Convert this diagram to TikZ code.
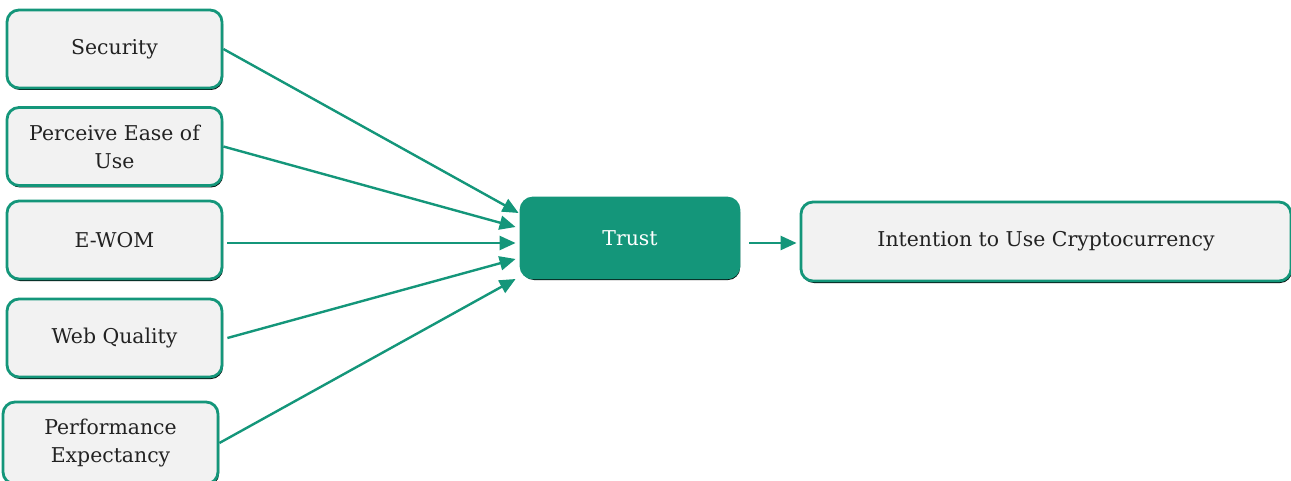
\documentclass[tikz,border=0pt]{standalone}
\usepackage{fontspec}
\setmainfont{DejaVu Serif}
\usepackage{tikz}
\usetikzlibrary{arrows.meta,shadows,calc,positioning}
\definecolor{trustgreen}{HTML}{14967A}
\definecolor{boxgray}{HTML}{F2F2F2}
\definecolor{labelgray}{HTML}{222222}

\begin{document}
\begin{tikzpicture} [x=0.5pt, y=-0.5pt,
  factor/.style={draw=trustgreen, line width=1.4pt, fill=boxgray, rounded corners=6pt,
    minimum width=107.5pt, minimum height=39pt, align=center, inner sep=1pt,
    text=labelgray, font=\fontsize{10.2}{14}\selectfont,
    drop shadow={shadow xshift=0.5pt, shadow yshift=-1pt, fill=black, opacity=1}},
  link/.style={draw=trustgreen, line width=1.2pt, -{Triangle[length=8pt,width=7pt]}}]
\useasboundingbox (0,0) rectangle (1291,481);
\clip (0,0) rectangle (1291,481);

\node[factor] (security) at (114.5,49) {Security};
\node[factor] (peou) at (114.5,146.5) {Perceive Ease of\\Use};
\node[factor] (ewom) at (114.5,240) {E-WOM};
\node[factor] (webq) at (114.5,338) {Web Quality};
\node[factor, minimum height=41pt] (perf) at (110.5,443) {Performance\\Expectancy};

\node[factor, fill=trustgreen, text=white, minimum width=109pt, minimum height=40pt] (trust) at (630,238) {Trust};
\node[factor, minimum width=245pt, minimum height=39.5pt] (intent) at (1046,241.5) {Intention to Use Cryptocurrency};

\draw[link] (security.east) -- ($(trust.west)+(-1,-25)$);
\draw[link] (peou.east) -- ($(trust.west)+(-4,-11)$);
\draw[link] ($(ewom.east)+(4,3)$) -- ($(trust.west)+(-4,5)$);
\draw[link] ($(webq.east)+(4,0)$) -- ($(trust.west)+(-4,21)$);
\draw[link] (perf.east) -- ($(trust.west)+(-4,41)$);
\draw[link] ($(trust.east |- intent.west)+(9,1.5)$) -- ($(intent.west)+(-3,1.5)$);
\end{tikzpicture}
\end{document}
